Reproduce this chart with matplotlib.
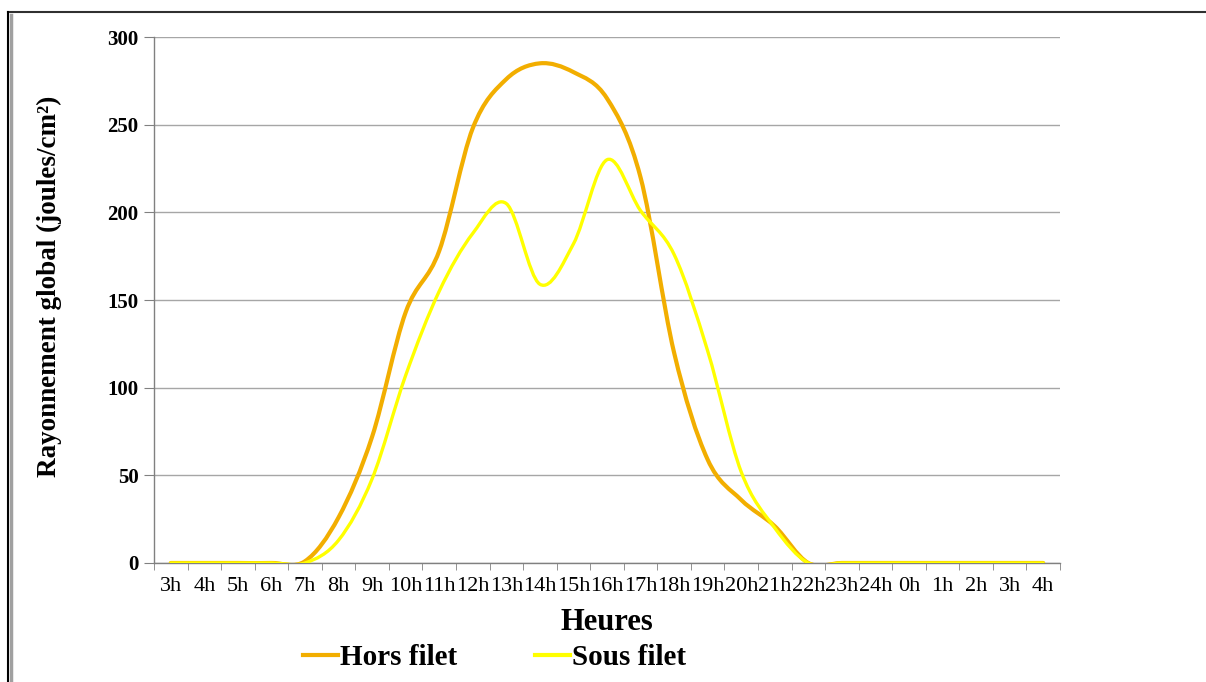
import numpy as np
import matplotlib.pyplot as plt
from matplotlib.path import Path
from matplotlib.patches import PathPatch
from matplotlib.lines import Line2D

hours = ['3h', '4h', '5h', '6h', '7h', '8h', '9h', '10h', '11h', '12h', '13h', '14h',
         '15h', '16h', '17h', '18h', '19h', '20h', '21h', '22h', '23h', '24h',
         '0h', '1h', '2h', '3h', '4h']
hors_filet = [0, 0, 0, 0, 1, 26, 72, 143, 178, 248, 276, 285, 280, 265, 220,
              120, 59, 36, 21, 0, 0, 0, 0, 0, 0, 0, 0]
sous_filet = [0, 0, 0, 0, 0, 13, 48, 107, 155, 188, 205, 159, 182, 230, 201,
              176, 121, 52, 20, 0, 0, 0, 0, 0, 0, 0, 0]

ORANGE = '#F2AE00'
YELLOW = '#FFFF00'

plt.rcParams.update({
    'font.family': 'serif',
    'font.serif': ['Liberation Serif', 'DejaVu Serif'],
})


def smooth_path(x, y):
    # Excel-like smoothed line: Catmull-Rom segments as cubic Bezier curves
    pts = np.column_stack([x, y]).astype(float)
    verts = [pts[0]]
    codes = [Path.MOVETO]
    n = len(pts)
    for i in range(n - 1):
        p0 = pts[i - 1] if i > 0 else pts[i]
        p1 = pts[i]
        p2 = pts[i + 1]
        p3 = pts[i + 2] if i + 2 < n else pts[i + 1]
        c1 = p1 + (p2 - p0) / 6.0
        c2 = p2 - (p3 - p1) / 6.0
        verts += [c1, c2, p2]
        codes += [Path.CURVE4] * 3
    return Path(verts, codes)


fig = plt.figure(figsize=(12.06, 6.82), dpi=100)
ax = fig.add_axes([0.1277, 0.1745, 0.7512, 0.7712])

x = np.arange(len(hours))
for vals, col, lw in [(hors_filet, ORANGE, 3.0), (sous_filet, YELLOW, 2.4)]:
    ax.add_patch(PathPatch(smooth_path(x, vals), facecolor='none', edgecolor=col,
                           linewidth=lw, capstyle='round', joinstyle='round', zorder=3))

ax.set_xlim(-0.5, len(hours) - 0.5)
ax.set_ylim(0, 300)
ax.set_yticks([0, 50, 100, 150, 200, 250, 300])
ax.yaxis.grid(True, color='#A6A6A6', linewidth=1.0)
ax.set_axisbelow(True)

ax.set_xticks(x)
ax.set_xticklabels(hours, fontsize=16)
ax.set_xticks(np.arange(-0.5, len(hours)), minor=True)
ax.tick_params(axis='x', which='major', length=0, pad=10)
ax.tick_params(axis='x', which='minor', length=5, color='#808080', direction='out')
ax.tick_params(axis='y', length=7, color='#808080', direction='out', pad=4)
for lab in ax.get_yticklabels():
    lab.set_fontweight('bold')
    lab.set_fontsize(15)

for s in ['top', 'right']:
    ax.spines[s].set_visible(False)
for s in ['left', 'bottom']:
    ax.spines[s].set_color('#808080')
    ax.spines[s].set_linewidth(1.0)

ax.set_xlabel('Heures', fontsize=22, fontweight='bold', labelpad=9)
fig.text(0.041, 0.58, 'Rayonnement global (joules/cm²)', rotation=90, ha='center',
         va='center', fontsize=19.5, fontweight='bold')

handles = [Line2D([], [], color=ORANGE, lw=3.0), Line2D([], [], color=YELLOW, lw=3.0)]
fig.legend(handles, ['Hors filet', 'Sous filet'], loc='center', ncol=2,
           bbox_to_anchor=(0.41, 0.036), frameon=False,
           prop={'size': 21, 'weight': 'bold'}, handlelength=1.2, handletextpad=0.05,
           columnspacing=2.7)

# page frame
fig.add_artist(Line2D([0.0066, 1.0], [0.9824, 0.9824], color='#303030', lw=1.5,
                      transform=fig.transFigure))
fig.add_artist(Line2D([0.0066, 0.0066], [0, 0.9824], color='black', lw=1.5,
                      transform=fig.transFigure))
fig.add_artist(Line2D([0.0095, 0.0095], [0, 0.978], color='#A0A0A0', lw=2.5,
                      transform=fig.transFigure))

fig.savefig('out.png', dpi=100)
